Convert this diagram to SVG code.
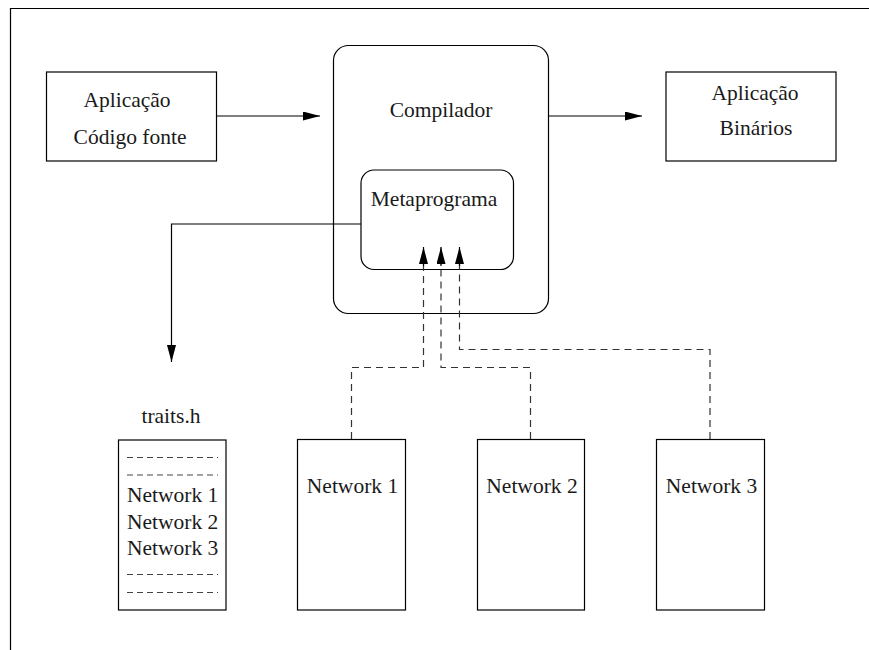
<svg xmlns="http://www.w3.org/2000/svg" width="869" height="650" viewBox="0 0 869 650">
  <style>
    .box { fill: #ffffff; stroke: #000000; stroke-width: 1.2; }
    .lbl { font-family: "Liberation Serif", "Times New Roman", serif; font-size: 21.5px; fill: #1a1a1a; }
    .mid { text-anchor: middle; }
    .wire { fill: none; stroke: #000000; stroke-width: 1.2; }
    .dash { fill: none; stroke: #333333; stroke-width: 1.2; stroke-dasharray: 7 5; }
    .sep { stroke: #444444; stroke-width: 1; stroke-dasharray: 6 4; }
    .frame { stroke: #000000; stroke-width: 1.2; fill: none; }
  </style>
  <defs>
    <marker id="head" markerUnits="userSpaceOnUse" markerWidth="18" markerHeight="10" refX="17" refY="4.5" orient="auto">
      <path d="M0,0 L17,4.5 L0,9 z" fill="#000000"/>
    </marker>
  </defs>

  <!-- page frame -->
  <path class="frame" d="M10.5,650 V8.5 H869" />

  <g id="source">
    <rect class="box" x="46.5" y="72" width="170" height="89"/>
    <text class="lbl mid" x="127" y="107">Aplicação</text>
    <text class="lbl mid" x="130" y="143.5">Código fonte</text>
  </g>

  <g id="compiler">
    <rect class="box" x="333.5" y="45.5" width="215" height="268" rx="15"/>
    <text class="lbl mid" x="441" y="117">Compilador</text>
  </g>

  <g id="metaprogram">
    <rect class="box" x="361" y="170" width="152.5" height="99.5" rx="13"/>
    <text class="lbl mid" x="434" y="206">Metaprograma</text>
  </g>

  <g id="binaries">
    <rect class="box" x="666" y="72" width="170" height="89"/>
    <text class="lbl mid" x="755" y="99.5">Aplicação</text>
    <text class="lbl mid" x="756" y="134.5">Binários</text>
  </g>

  <g id="traits">
    <text class="lbl mid" x="171" y="423">traits.h</text>
    <rect class="box" x="118.5" y="440" width="107.5" height="170"/>
    <line class="sep" x1="127" y1="457.5" x2="218" y2="457.5"/>
    <line class="sep" x1="127" y1="475" x2="218" y2="475"/>
    <text class="lbl" x="127" y="502">Network 1</text>
    <text class="lbl" x="127" y="528.5">Network 2</text>
    <text class="lbl" x="127" y="555">Network 3</text>
    <line class="sep" x1="127" y1="574.5" x2="218" y2="574.5" stroke="#777777"/>
    <line class="sep" x1="127" y1="592.5" x2="218" y2="592.5" stroke="#777777"/>
  </g>

  <g id="network1">
    <rect class="box" x="297.5" y="439.5" width="108" height="170.5"/>
    <text class="lbl mid" x="352.5" y="493">Network 1</text>
  </g>

  <g id="network2">
    <rect class="box" x="477.5" y="439.5" width="107" height="170.5"/>
    <text class="lbl mid" x="532" y="493">Network 2</text>
  </g>

  <g id="network3">
    <rect class="box" x="656.5" y="439.5" width="108" height="170.5"/>
    <text class="lbl mid" x="711.5" y="493">Network 3</text>
  </g>

  <!-- connectors, drawn last so they run over the compiler box -->
  <g id="connectors">
    <line class="wire" x1="217" y1="116" x2="320" y2="116" marker-end="url(#head)"/>
    <line class="wire" x1="549" y1="116" x2="642" y2="116" marker-end="url(#head)"/>
    <polyline class="wire" points="361,224 171.5,224 171.5,362" marker-end="url(#head)"/>
    <polyline class="dash" points="351.5,439 351.5,367.5 423.5,367.5 423.5,264"/>
    <polyline class="dash" points="530.5,439 530.5,367.5 441,367.5 441,264"/>
    <polyline class="dash" points="710,439 710,349.5 459.5,349.5 459.5,264"/>
    <line class="wire" x1="423.5" y1="266" x2="423.5" y2="247" marker-end="url(#head)"/>
    <line class="wire" x1="441" y1="266" x2="441" y2="247" marker-end="url(#head)"/>
    <line class="wire" x1="459.5" y1="266" x2="459.5" y2="247" marker-end="url(#head)"/>
  </g>
</svg>
